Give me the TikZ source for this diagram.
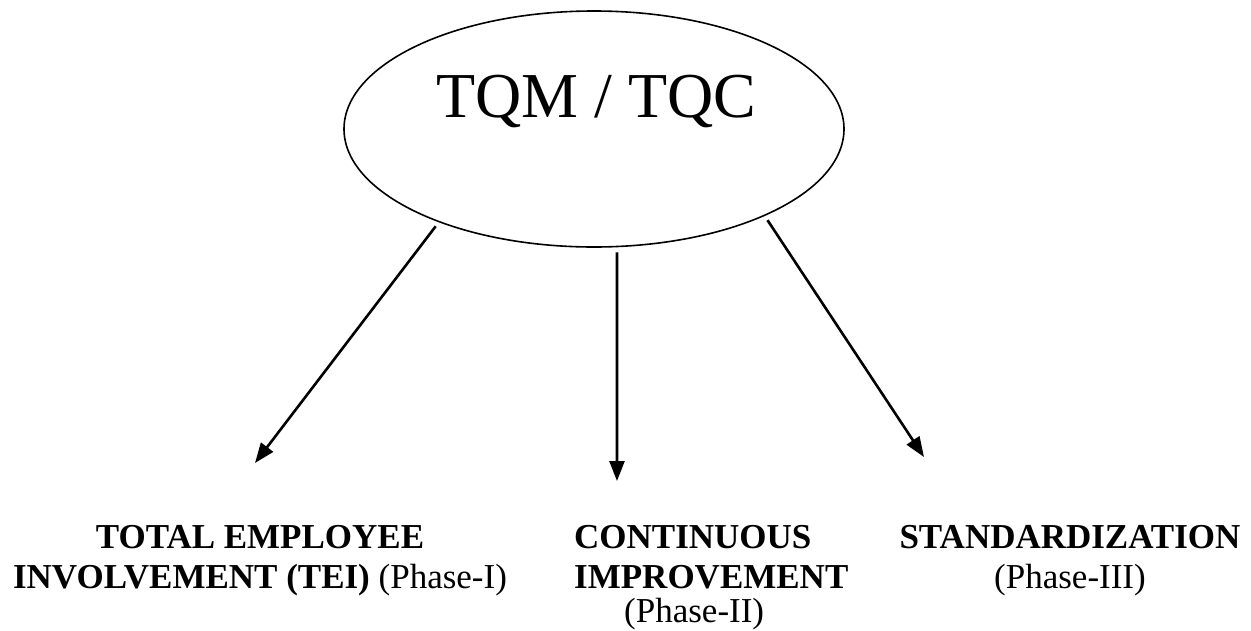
\documentclass[tikz,border=0pt]{standalone}
\usepackage{fontspec}
\setmainfont{Liberation Serif}
\usetikzlibrary{arrows.meta, shapes.geometric}

\tikzset{
	branch/.style={-{Triangle[length=20pt,width=15pt]}, line width=2.6pt, shorten <=5pt},
	phase/.style={inner sep=0pt, font=\fontsize{35}{40}\selectfont},
}

\begin{document}
\begin{tikzpicture}[x=1pt,y=-1pt]
		\useasboundingbox (0,0) rectangle (1251,630);
		\node[draw, ellipse, line width=1.6pt, minimum width=500pt, minimum height=236pt, inner sep=0pt] (tqm) at (594,129) {};
		\node[anchor=base, inner sep=0pt, font=\fontsize{64}{70}\selectfont] (tqmtext) at (596,117) {TQM / TQC};
		\coordinate (e1) at (255,463);
		\coordinate (e2) at (617,481);
		\coordinate (e3) at (924,457);
		\draw[branch] (tqm.211) -- (e1);
		\draw[branch] (tqm.281) -- (e2);
		\draw[branch] (tqm.333) -- (e3);
		% base anchor sits on the last line
		\node[phase, anchor=base, align=center] (tei) at (260,588) {\textbf{TOTAL EMPLOYEE}\\\textbf{INVOLVEMENT (TEI)} (Phase-I)};
		\node[phase, anchor=base west, align=left] (ci) at (574,622) {\textbf{CONTINUOUS}\\\textbf{IMPROVEMENT}\\[-6pt]\hspace*{50pt}(Phase-II)};
		\node[phase, anchor=base, align=center] (std) at (1070,588) {\textbf{STANDARDIZATION}\\(Phase-III)};
	\end{tikzpicture}
\end{document}
